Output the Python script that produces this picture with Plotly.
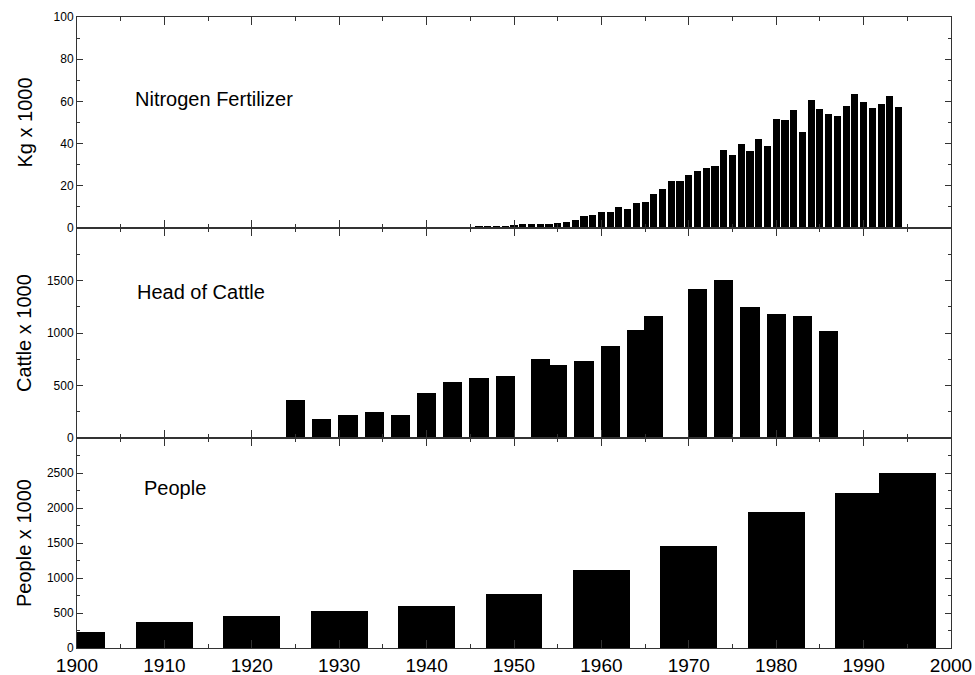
import plotly.graph_objects as go
from plotly.subplots import make_subplots

# ---------------- data ----------------
nitro_years = list(range(1945, 1995))
nitro_vals = [0.3, 0.6, 0.6, 0.6, 0.9, 1.3, 2.0, 2.0, 1.7, 2.0,
              2.2, 3.0, 3.7, 5.6, 6.3, 7.5, 7.5, 9.8, 9.2, 11.9,
              12.2, 15.9, 18.4, 22.1, 22.1, 25.1, 27.0, 28.4, 29.4, 37.0,
              34.4, 40.0, 36.7, 42.2, 39.0, 51.6, 51.3, 55.9, 45.4, 60.5,
              56.5, 53.8, 53.2, 57.8, 63.3, 59.7, 57.1, 58.7, 62.7, 57.3]

cattle_years = [1925, 1928, 1931, 1934, 1937, 1940, 1943, 1946, 1949, 1953, 1955,
                1958, 1961, 1964, 1966, 1971, 1974, 1977, 1980, 1983, 1986]
cattle_vals = [361, 180, 215, 247, 218, 425, 532, 567, 589, 754, 700,
               738, 881, 1033, 1160, 1416, 1502, 1252, 1185, 1160, 1017]

people_years = [1900, 1910, 1920, 1930, 1940, 1950, 1960, 1970, 1980, 1990, 1995]
people_vals = [225, 367, 461, 533, 595, 771, 1109, 1457, 1943, 2214, 2495]

x_ticks = [1900, 1910, 1920, 1930, 1940, 1950, 1960, 1970, 1980, 1990, 2000]
panel_titles = ["Nitrogen Fertilizer", "Head of Cattle", "People"]
y_titles = ["Kg x 1000", "Cattle x 1000", "People x 1000"]

# ---------------- figure ----------------
FONT = "Liberation Sans, Arial, Helvetica, sans-serif"
W, H = 975, 675
ML, MR, MT, MB = 77, 24, 17, 27

fig = make_subplots(rows=3, cols=1, shared_xaxes=False, vertical_spacing=0)

fig.add_trace(go.Bar(x=nitro_years, y=nitro_vals, width=0.82,
                     marker=dict(color="black", line=dict(width=0)),
                     showlegend=False), row=1, col=1)
fig.add_trace(go.Bar(x=cattle_years, y=cattle_vals, width=2.2,
                     marker=dict(color="black", line=dict(width=0)),
                     showlegend=False), row=2, col=1)
fig.add_trace(go.Bar(x=people_years, y=people_vals, width=6.5,
                     marker=dict(color="black", line=dict(width=0)),
                     showlegend=False), row=3, col=1)

ph = H - MT - MB
b1 = 210 / ph
b2 = 420 / ph
domains = [[b2, 1.0], [b1, b2], [0.0, b1]]

axis_color = "#333333"
y_specs = [
    dict(range=[0, 100], tickvals=[0, 20, 40, 60, 80, 100], minor_dtick=10),
    dict(range=[0, 2000], tickvals=[0, 500, 1000, 1500], minor_dtick=250),
    dict(range=[0, 3000], tickvals=[0, 500, 1000, 1500, 2000, 2500], minor_dtick=250),
]

for i in range(3):
    r = i + 1
    fig.update_xaxes(
        row=r, col=1,
        range=[1900, 2000], tickvals=x_ticks,
        showticklabels=(r == 3),
        ticks="inside", ticklen=8, tickwidth=1, tickcolor=axis_color,
        minor=dict(ticks="inside", ticklen=4, dtick=5, tick0=1900, tickcolor=axis_color),
        showline=True, linecolor=axis_color, linewidth=1, mirror="ticks",
        showgrid=False, zeroline=False,
        tickfont=dict(family=FONT, size=19, color="black"),
        automargin=False,
    )
    spec = y_specs[i]
    fig.update_yaxes(
        row=r, col=1,
        domain=domains[i],
        range=spec["range"], tickvals=spec["tickvals"],
        ticks="inside", ticklen=6, tickwidth=1, tickcolor=axis_color,
        minor=dict(ticks="inside", ticklen=3, dtick=spec["minor_dtick"], tick0=0,
                   tickcolor=axis_color),
        showline=True, linecolor=axis_color, linewidth=1, mirror="ticks",
        showgrid=False, zeroline=False,
        tickfont=dict(family=FONT, size=12, color="black"),
        automargin=False,
    )

# panel labels (data coordinates of each subplot)
label_pos = [(1906.4, 61, "x", "y"), (1906.6, 1388, "x2", "y2"), (1907.4, 2290, "x3", "y3")]
for (lx, ly, xr, yr), txt in zip(label_pos, panel_titles):
    fig.add_annotation(x=lx, y=ly, xref=xr, yref=yr, text=txt, showarrow=False,
                       xanchor="left", yanchor="middle",
                       font=dict(family=FONT, size=20, color="black"))

# y axis titles, centred on each panel
for (d0, d1), txt in zip(domains, y_titles):
    fig.add_annotation(x=(24 - ML) / (W - ML - MR), y=(d0 + d1) / 2,
                       xref="paper", yref="paper", text=txt, showarrow=False,
                       textangle=-90, xanchor="center", yanchor="middle",
                       font=dict(family=FONT, size=20, color="black"))

fig.update_layout(
    width=W, height=H,
    margin=dict(l=ML, r=MR, t=MT, b=MB, pad=0),
    paper_bgcolor="white", plot_bgcolor="white",
    bargap=0, barmode="overlay",
    font=dict(family=FONT, color="black"),
)

fig.write_html("out.html")
